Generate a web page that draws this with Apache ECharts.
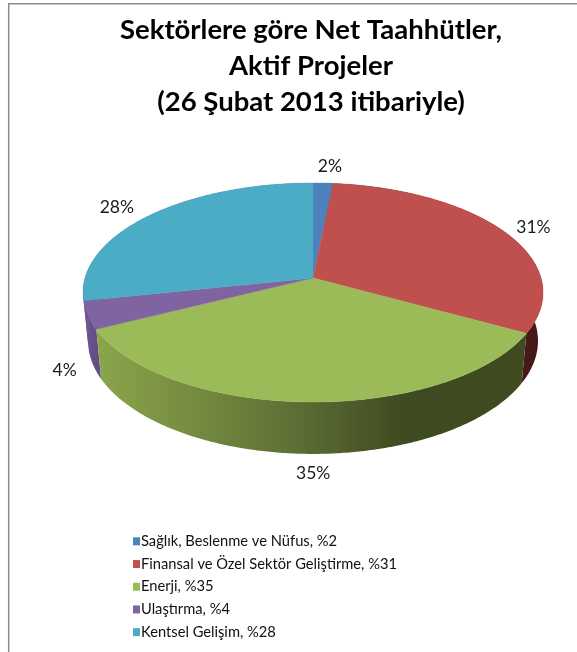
<!DOCTYPE html>
<html><head><meta charset="utf-8">
<style>html,body{margin:0;padding:0;background:#fff}#c{width:577px;height:652px}</style>
<script src="https://cdn.jsdelivr.net/npm/echarts@6/dist/echarts.min.js"></script>
</head><body><div id="c"></div>
<script>
const categories = ['Sağlık, Beslenme ve Nüfus, %2','Finansal ve Özel Sektör Geliştirme, %31','Enerji, %35','Ulaştırma, %4','Kentsel Gelişim, %28'];
const sliceValues = [1.6, 31.4, 34.6, 4.1, 28.3];
const percentLabels = ['2%','31%','35%','4%','28%'];
const topColors = ['#4F81BD','#C0504D','#9BBB59','#8064A2','#4BACC6'];
const titleText = 'Sektörlere göre Net Taahhütler,\nAktif Projeler\n(26 Şubat 2013 itibariyle)';

// View of the tilted disc
const view = {cx:313, top:{y:278,a:228,b:107.6}, bot:{y:326,a:223,b:111}, k:0.1323, labelR:1.17, depth:48};
const labelNudge = [[5,-1],[-2,5],[6,2],[15,1],[-5,3]];
const sideStops = [
  [[0,'#3f6a99'],[1,'#2f5070']],
  [[0,'#5a1e1e'],[1,'#451818']],
  [[0,'#8ba64c'],[0.45,'#5f7035'],[0.72,'#3e4a20'],[1,'#3f4a21']],
  [[0,'#6f5590'],[1,'#604a80']],
  [[0,'#6f5590'],[1,'#6f5590']]
];
const total = sliceValues.reduce((s,v)=>s+v,0);
const cum = sliceValues.reduce((o,v)=>{o.push(o[o.length-1]+v);return o;},[0]);

function proj(p,th,r){
  const a=Math.sin(th), b=Math.cos(th), w=1+view.k*b;
  return [view.cx+p.a*r*a/w, p.y-p.b*r*b/w];
}
function arc(p,t0,t1){
  const n=Math.max(2,Math.ceil((t1-t0)/0.01)), out=[];
  for(let i=0;i<=n;i++) out.push(proj(p,t0+(t1-t0)*i/n,1));
  return out;
}
function render(idx){
  return function(params,api){
    const t0=cum[idx]/total*2*Math.PI, t1=cum[idx+1]/total*2*Math.PI, mid=(t0+t1)/2;
    const topArc=arc(view.top,t0,t1), botArc=arc(view.bot,t0,t1);
    const lp=proj(view.top,mid,view.labelR);
    const dropped=Math.cos(mid)<0?view.depth:0;
    return {type:'group',children:[
      {type:'polygon',z2:idx===2?3:1,shape:{points:topArc.concat(botArc.slice().reverse())},
       style:{fill:new echarts.graphic.LinearGradient(0,0,1,0,sideStops[idx].map(s=>({offset:s[0],color:s[1]}))),stroke:null}},
      {type:'polygon',z2:10,shape:{points:[[view.cx,view.top.y]].concat(topArc)},
       style:{fill:topColors[idx],stroke:topColors[idx],lineWidth:0.4}},
      {type:'text',z2:20,x:lp[0]+labelNudge[idx][0],y:lp[1]+dropped+labelNudge[idx][1],
       style:{text:percentLabels[idx],fill:'#1a1a1a',font:'17.5px Lato',align:'center',verticalAlign:'middle'}}
    ]};
  };
}
const chart=echarts.init(document.getElementById('c'),null,{renderer:'canvas'});
chart.setOption({
  animation:false,
  backgroundColor:'#fff',
  title:{text:titleText,left:306,top:7,textAlign:'center',
    textStyle:{fontFamily:'Lato',fontWeight:'bold',fontSize:27.5,lineHeight:36,color:'#000'}},
  legend:{orient:'vertical',left:128,top:525,itemWidth:7,itemHeight:8,itemGap:0,icon:'rect',
    textStyle:{fontFamily:'Lato',fontSize:14.7,lineHeight:17,color:'#111',padding:[0,0,5.7,-4]},
    data:categories},
  series:categories.map((name,i)=>({type:'custom',name,coordinateSystem:'none',
    itemStyle:{color:topColors[i]},data:[[sliceValues[i]]],renderItem:render(i),silent:true})),
  graphic:[{type:'polyline',shape:{points:[[8.7,652],[8.7,3.7],[577,3.7]]},style:{stroke:'#8c8c8c',lineWidth:1.5,fill:null}}]
});
</script></body></html>
